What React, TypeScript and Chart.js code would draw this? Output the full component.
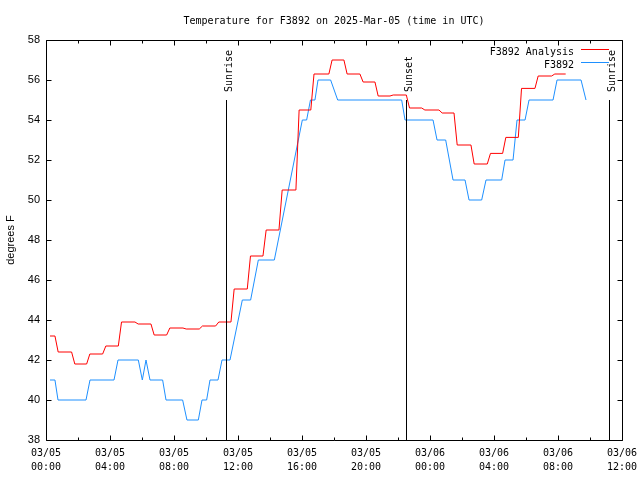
import React, { useEffect, useRef } from 'react';
import { Chart, registerables } from 'chart.js';

Chart.register(...registerables);

const chartTitle = 'Temperature for F3892 on 2025-Mar-05 (time in UTC)';
const yAxisTitle = 'degrees F';
const xTickDates = ['03/05', '03/05', '03/05', '03/05', '03/05', '03/05', '03/06', '03/06', '03/06', '03/06'];
const xTickTimes = ['00:00', '04:00', '08:00', '12:00', '16:00', '20:00', '00:00', '04:00', '08:00', '12:00'];
const analysisLabel = 'F3892 Analysis';
const obsLabel = 'F3892';

// hours since 03/05 00:00 UTC at which each analysis value begins
const analysisStartHours = [0.25, 0.56, 1.6, 2.54, 3.54, 4.52, 5.56, 6.56, 7.54, 8.56, 9.58, 10.6, 11.56, 12.58, 13.56, 14.56, 15.62, 16.55, 17.68, 18.62, 19.62, 20.56, 21.5, 22.52, 23.48, 24.56, 25.5, 26.56, 27.58, 28.54, 29.52, 30.56, 31.6];
const analysisTemps = [43.2, 42.4, 41.8, 42.3, 42.7, 43.9, 43.8, 43.25, 43.6, 43.55, 43.7, 43.9, 45.55, 47.2, 48.5, 50.5, 54.5, 56.3, 57.0, 56.3, 55.9, 55.2, 55.25, 54.6, 54.5, 54.35, 52.75, 51.8, 52.33, 53.13, 55.58, 56.2, 56.3];
const analysisEndHour = 32.48;
const analysisRamp = 0.2;

const obsHours = [0.25, 0.56, 0.75, 2.5, 2.75, 4.25, 4.5, 5.77, 6.02, 6.25, 6.5, 7.29, 7.5, 8.54, 8.81, 9.52, 9.75, 10.04, 10.25, 10.75, 11.0, 11.5, 12.27, 12.79, 13.27, 14.27, 16.02, 16.29, 16.53, 16.81, 17.0, 17.79, 18.23, 22.23, 22.44, 24.19, 24.44, 24.98, 25.44, 26.19, 26.44, 27.23, 27.5, 28.48, 28.69, 29.19, 29.44, 29.94, 30.19, 31.69, 31.94, 33.44, 33.75];
const obsTemps = [41, 41, 40, 40, 41, 41, 42, 42, 41, 42, 41, 41, 40, 40, 39, 39, 40, 40, 41, 41, 42, 42, 45, 45, 47, 47, 54, 54, 55, 55, 56, 56, 55, 55, 54, 54, 53, 53, 51, 51, 50, 50, 51, 51, 52, 52, 54, 54, 55, 55, 56, 56, 55];

const sunEventNames = ['Sunrise', 'Sunset', 'Sunrise'];
const sunEventHours = [11.25, 22.5, 35.2];
const sunEventTopTemp = 55;

const X_MIN = 0;
const X_MAX = 36;
const Y_MIN = 38;
const Y_MAX = 58;

const RED = '#ff0000';
const BLUE = '#1e90ff';
const MONO = '"DejaVu Sans Mono", monospace';
const SANS = '"Liberation Sans", Arial, sans-serif';

const decorPlugin = {
  id: 'gnuplotDecor',
  beforeDraw(chart: any) {
    const ctx = chart.ctx;
    ctx.save();
    ctx.fillStyle = '#ffffff';
    ctx.fillRect(0, 0, chart.width, chart.height);
    ctx.restore();
  },
  afterDraw(chart: any) {
    const ctx = chart.ctx;
    const { left, top, right, bottom } = chart.chartArea;
    const xs = chart.scales.x;
    const ys = chart.scales.y;
    ctx.save();
    ctx.strokeStyle = '#000';
    ctx.lineWidth = 1;
    const L = Math.round(left) + 0.5;
    const R = Math.round(right) + 0.5;
    const T = Math.round(top) + 0.5;
    const B = Math.round(bottom) + 0.5;
    ctx.beginPath();
    ctx.rect(L, T, R - L, B - T);
    // x ticks (major every 4h, minor every 2h), inward on bottom and top
    for (let h = X_MIN; h <= X_MAX; h += 2) {
      const px = Math.round(xs.getPixelForValue(h)) + 0.5;
      const len = h % 4 === 0 ? 5 : 3;
      ctx.moveTo(px, B);
      ctx.lineTo(px, B - len);
      ctx.moveTo(px, T);
      ctx.lineTo(px, T + len);
    }
    for (let v = Y_MIN; v <= Y_MAX; v += 2) {
      const py = Math.round(ys.getPixelForValue(v)) + 0.5;
      ctx.moveTo(L, py);
      ctx.lineTo(L + 5, py);
      ctx.moveTo(R, py);
      ctx.lineTo(R - 5, py);
    }
    // sun event lines
    sunEventHours.forEach((h) => {
      const px = Math.round(xs.getPixelForValue(h)) + 0.5;
      ctx.moveTo(px, Math.round(ys.getPixelForValue(sunEventTopTemp)));
      ctx.lineTo(px, B);
    });
    ctx.stroke();

    // title
    ctx.fillStyle = '#000';
    ctx.font = `10px ${MONO}`;
    ctx.textAlign = 'center';
    ctx.textBaseline = 'alphabetic';
    ctx.fillText(chartTitle, (left + right) / 2, 24);

    // sun event labels
    sunEventNames.forEach((name, i) => {
      const px = Math.round(xs.getPixelForValue(sunEventHours[i]));
      const py = ys.getPixelForValue(sunEventTopTemp);
      ctx.save();
      ctx.translate(px + 6, py - 8);
      ctx.rotate(-Math.PI / 2);
      ctx.textAlign = 'left';
      ctx.textBaseline = 'alphabetic';
      ctx.fillText(name, 0, 0);
      ctx.restore();
    });

    // legend
    const labels = [analysisLabel, obsLabel];
    const colors = [RED, BLUE];
    labels.forEach((lab, i) => {
      const yLine = Math.round(top) + 9.5 + i * 13;
      ctx.textAlign = 'right';
      ctx.textBaseline = 'alphabetic';
      ctx.fillStyle = '#000';
      ctx.fillText(lab, right - 48, yLine + 5);
      ctx.beginPath();
      ctx.strokeStyle = colors[i];
      ctx.moveTo(right - 41, yLine);
      ctx.lineTo(right - 13, yLine);
      ctx.stroke();
    });
    ctx.restore();
  },
};

export default function App() {
  const ref = useRef<HTMLCanvasElement>(null);
  useEffect(() => {
    const canvas = ref.current;
    if (!canvas) return;
    const analysisPoints: { x: number; y: number }[] = [];
    analysisStartHours.forEach((h, i) => {
      if (i === 0) {
        analysisPoints.push({ x: h, y: analysisTemps[0] });
      } else {
        analysisPoints.push({ x: h, y: analysisTemps[i - 1] });
        analysisPoints.push({ x: h + analysisRamp, y: analysisTemps[i] });
      }
    });
    analysisPoints.push({ x: analysisEndHour, y: analysisTemps[analysisTemps.length - 1] });
    const obsPoints = obsHours.map((h, i) => ({ x: h, y: obsTemps[i] }));

    const chart = new Chart(canvas, {
      type: 'line',
      data: {
        datasets: [
          { label: analysisLabel, data: analysisPoints, borderColor: RED, borderWidth: 1, pointRadius: 0 },
          { label: obsLabel, data: obsPoints, borderColor: BLUE, borderWidth: 1, pointRadius: 0 },
        ] as any,
      },
      options: {
        animation: false,
        responsive: false,
        events: [],
        layout: { padding: { top: 40, right: 18, left: 0, bottom: 0 } },
        elements: { line: { tension: 0 }, point: { radius: 0 } },
        plugins: { legend: { display: false }, title: { display: false }, tooltip: { enabled: false } },
        scales: {
          x: {
            type: 'linear',
            min: X_MIN,
            max: X_MAX,
            grid: { display: false, drawTicks: false },
            border: { display: false },
            ticks: {
              stepSize: 4,
              autoSkip: false,
              maxRotation: 0,
              minRotation: 0,
              padding: 6,
              color: '#000',
              font: { family: MONO, size: 10, lineHeight: 1.45 },
              callback: (value: any) => {
                const i = Math.round(Number(value) / 4);
                return [xTickDates[i], xTickTimes[i]];
              },
            },
            afterFit: (s: any) => {
              s.height = 40;
              s.paddingLeft = 0;
              s.paddingRight = 0;
            },
          },
          y: {
            type: 'linear',
            min: Y_MIN,
            max: Y_MAX,
            grid: { display: false, drawTicks: false },
            border: { display: false },
            ticks: {
              stepSize: 2,
              padding: 6,
              color: '#000',
              font: { family: SANS, size: 11 },
            },
            title: {
              display: true,
              text: yAxisTitle,
              color: '#000',
              font: { family: SANS, size: 11, lineHeight: 1.2 },
              padding: { top: 4, bottom: 0 },
            },
            afterFit: (s: any) => {
              s.width = 46;
            },
          },
        },
      } as any,
      plugins: [decorPlugin],
    });
    return () => chart.destroy();
  }, []);
  return (
    <div style={{ position: 'absolute', left: 0, top: 0, width: 640, height: 480, background: '#fff' }}>
      <canvas ref={ref} width={640} height={480} style={{ display: 'block' }} />
    </div>
  );
}
